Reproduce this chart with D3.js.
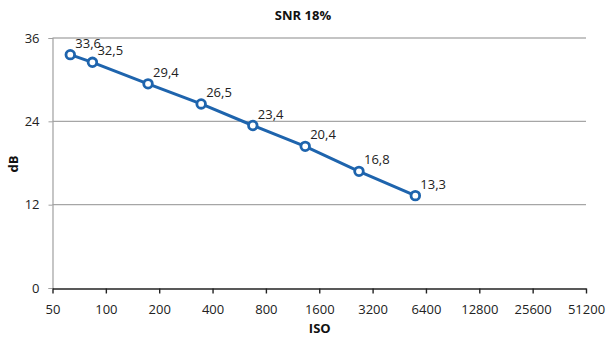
<!DOCTYPE html>
<html><head><meta charset="utf-8">
<script src="https://cdn.jsdelivr.net/npm/d3@7"></script>
<style>body{margin:0;background:#fff}svg{display:block}text{font-family:"Open Sans",sans-serif}</style>
</head><body><svg id="c" width="610" height="341"></svg>
<script>
const title = "SNR 18%";
const isoValues = [63, 84, 173, 345, 675, 1333, 2681, 5575];
const snrValues = [33.6, 32.5, 29.4, 26.5, 23.4, 20.4, 16.8, 13.3];
const xTickValues = [50, 100, 200, 400, 800, 1600, 3200, 6400, 12800, 25600, 51200];
const yTickValues = [0, 12, 24, 36];
const xLabel = "ISO", yLabel = "dB";

const svg = d3.select("#c");
const L = 52.5, R = 586, T = 38, B = 288;
const x = d3.scaleLog().base(2).domain([50, 51200]).range([L, R]);
const y = d3.scaleLinear().domain([0, 36]).range([B, T]);
const blue = "#1e64ad";

// gridlines
svg.append("g").selectAll("line").data(yTickValues.filter(d => d > 0)).join("line")
  .attr("x1", L).attr("x2", R).attr("y1", d => y(d)).attr("y2", d => y(d))
  .attr("stroke", d => d === 36 ? "#c4c4c4" : "#a6a6a6").attr("stroke-width", d => d === 36 ? 2 : 1.3);

// y axis
const ya = svg.append("g").attr("transform", `translate(${L},0)`)
  .call(d3.axisLeft(y).tickValues(yTickValues).tickSize(4).tickPadding(9).tickFormat(d3.format("d")));
ya.select(".domain").attr("stroke", "#a0a0a0").attr("stroke-width", 1.2);
ya.selectAll(".tick line").attr("stroke", "#a0a0a0");
ya.selectAll("text").attr("font-size", 13).attr("fill", "#222").attr("font-family", "Open Sans");

// x axis
const xa = svg.append("g").attr("transform", `translate(0,${B + 0.5})`)
  .call(d3.axisBottom(x).tickValues(xTickValues).tickSize(5).tickSizeOuter(0).tickPadding(11).tickFormat(d3.format("d")));
xa.select(".domain").attr("stroke", "#222").attr("stroke-width", 1.6);
xa.selectAll(".tick line").attr("stroke", "#222").attr("stroke-width", 1.4);
xa.selectAll("text").attr("font-size", 13).attr("fill", "#222").attr("font-family", "Open Sans");

// title and axis labels
svg.append("text").attr("x", 303).attr("y", 20).attr("text-anchor", "middle")
  .attr("font-size", 13).attr("font-weight", "bold").attr("fill", "#111").text(title);
svg.append("text").attr("x", (L + R) / 2 + 0.5).attr("y", 333).attr("text-anchor", "middle")
  .attr("font-size", 13).attr("font-weight", "bold").attr("fill", "#111").text(xLabel);
svg.append("text").attr("transform", `translate(18,164) rotate(-90)`).attr("text-anchor", "middle")
  .attr("font-size", 13).attr("font-weight", "bold").attr("fill", "#111").text(yLabel);

// series
const pts = isoValues.map((v, i) => [v, snrValues[i]]);
svg.append("path").datum(pts)
  .attr("d", d3.line().x(d => x(d[0])).y(d => y(d[1])))
  .attr("fill", "none").attr("stroke", blue).attr("stroke-width", 3);
svg.append("g").selectAll("circle").data(pts).join("circle")
  .attr("cx", d => x(d[0])).attr("cy", d => y(d[1])).attr("r", 4.3)
  .attr("fill", "#fff").attr("stroke", blue).attr("stroke-width", 2.8);
svg.append("g").selectAll("text").data(pts).join("text")
  .attr("x", d => x(d[0]) + 5).attr("y", d => y(d[1]) - 7)
  .attr("font-size", 13).attr("fill", "#222")
  .text(d => d3.format(".1f")(d[1]).replace(".", ","));
</script></body></html>
